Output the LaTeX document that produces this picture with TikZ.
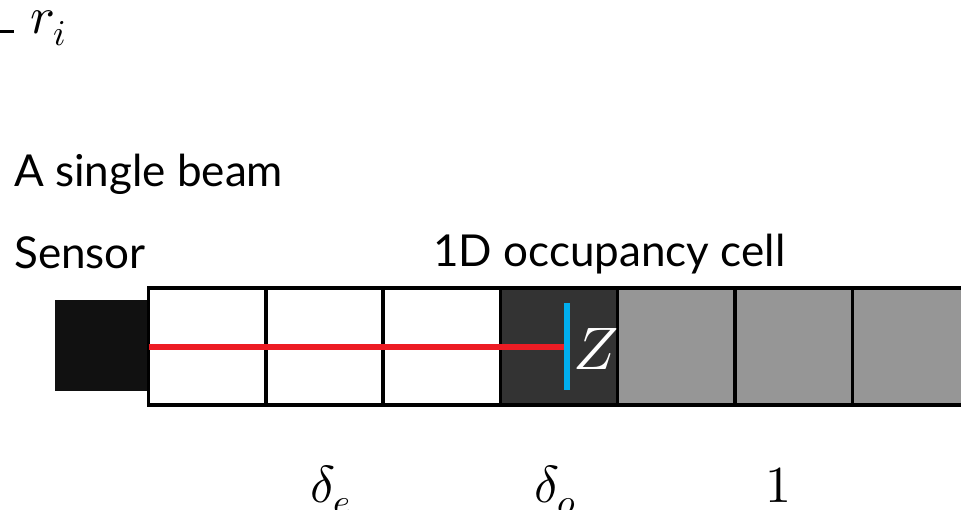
\documentclass[tikz,border=0pt]{standalone}
\usepackage{fontspec}
\usepackage{unicode-math}
\setmainfont{Lato}
\setmathfont{Latin Modern Math}
\definecolor{sensorblack}{HTML}{111111}
\definecolor{darkcell}{HTML}{333333}
\definecolor{graycell}{HTML}{969696}
\definecolor{beamred}{HTML}{ED1C24}
\definecolor{markblue}{HTML}{00AEEF}
\begin{document}
\begin{tikzpicture}[x=1pt,y=-1pt,
  cell/.style={draw=black, line width=3.5pt, minimum width=117.3pt, minimum height=117pt, inner sep=0pt, outer sep=0pt, anchor=west},
  lbl/.style={font=\fontsize{44}{48}\selectfont, anchor=base west, inner sep=0pt},
  mathlbl/.style={font=\fontsize{52}{56}\selectfont, anchor=base west, inner sep=0pt}]
\useasboundingbox (0,0) rectangle (961,509);
% sensor
\node[fill=sensorblack, minimum width=93pt, minimum height=91pt, inner sep=0pt] (sensor) at (101.5,345.5) {};
% cells
\node[cell, fill=white] (c1) at (148.5,346.5) {};
\node[cell, fill=white] (c2) at (c1.east) {};
\node[cell, fill=white] (c3) at (c2.east) {};
\node[cell, fill=darkcell] (c4) at (c3.east) {};
\node[cell, fill=graycell] (c5) at (c4.east) {};
\node[cell, fill=graycell] (c6) at (c5.east) {};
\node[cell, fill=graycell] (c7) at (c6.east) {};
% blue mark and beam
\node[fill=markblue, minimum width=6pt, minimum height=87pt, inner sep=0pt] (zmark) at (567,346.5) {};
\draw[beamred, line width=6pt] (c1.west) -- (zmark.west);
\node[font=\fontsize{60}{64}\selectfont, text=white, inner sep=0pt, anchor=base west] (zlbl) at (573,369) {$Z$};
% texts
\node[mathlbl] (ri) at (-10,33) {\rule[0pt]{24pt}{3.5pt}\hspace{16pt}$r_i$};
\node[lbl] (beam) at (14,186) {A single beam};
\node[lbl] (sensorlbl) at (14,268) {Sensor};
\node[lbl] (celllbl) at (433,266) {1D occupancy cell};
\node[mathlbl] (de) at (310,502) {$\delta_e$};
\node[mathlbl] (do) at (534,502) {$\delta_o$};
\node[mathlbl, anchor=base] (one) at (778,502) {$1$};
\end{tikzpicture}
\end{document}
